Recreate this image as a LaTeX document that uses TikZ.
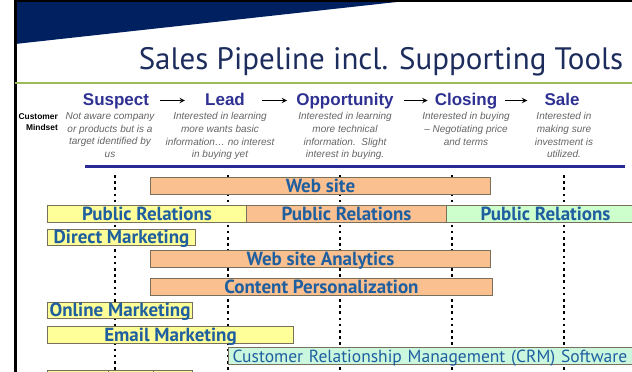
\documentclass[tikz,border=0pt]{standalone}
\usepackage{fontspec}
\setmainfont{Liberation Sans}
\newfontfamily\slidefont{PT Sans}
\usetikzlibrary{arrows, calc, positioning}
\definecolor{headnavy}{RGB}{0,32,96}
\definecolor{titlenavy}{RGB}{28,44,92}
\definecolor{titlegreen}{RGB}{155,187,89}
\definecolor{stageblue}{RGB}{46,49,146}
\definecolor{descgray}{RGB}{100,100,100}
\definecolor{rulecolor}{RGB}{42,42,150}
\definecolor{tooltext}{RGB}{31,95,160}
\definecolor{barline}{RGB}{120,112,90}
\definecolor{toolorange}{RGB}{250,192,143}
\definecolor{toolyellow}{RGB}{255,255,153}
\definecolor{toolgreen}{RGB}{204,255,204}
\definecolor{crmgreen}{RGB}{202,247,222}
\newcommand{\stagefont}{\bfseries\fontsize{17}{18}\selectfont}
\newcommand{\descfont}{\itshape\fontsize{10}{12.6}\selectfont}
\newcommand{\barfont}{\slidefont\bfseries\fontsize{19}{19}\selectfont}

\begin{document}
\begin{tikzpicture}[x=1pt, y=-1pt,
    stage/.style={font=\stagefont, text=stageblue, inner sep=0pt,
                  text height=12pt, text depth=3pt, anchor=base},
    desc/.style={font=\descfont, text=descgray, align=center,
                 inner sep=0pt, anchor=north},
    stagearrow/.style={-stealth, line width=1.4pt},
    phase/.style={line width=2.6pt, dash pattern=on 2.6pt off 3.6pt},
    tool/.style={draw=barline, line width=1pt, inner sep=0pt,
                 anchor=north west, minimum height=17pt,
                 text height=12pt, text depth=0pt,
                 font=\barfont, text=tooltext}]
\useasboundingbox (0,0) rectangle (632,372);
\clip (0,0) rectangle (632,372);

% header
\fill[headnavy] (15,0) -- (415,0) -- (15,44) -- cycle;
\draw[line width=2pt] (15,1) -- (632,1);
\draw[line width=2.5pt] (15.5,0) -- (15.5,372);
\node[font=\slidefont\fontsize{31}{34}\selectfont, text=titlenavy,
      anchor=base, inner sep=0pt] (title) at (381,69)
      {Sales Pipeline incl. Supporting Tools};
\draw[titlegreen, line width=2pt] (15,83) -- (632,83);

% pipeline stages
\node[stage] (suspect) at (116,105) {Suspect};
\node[stage] (lead)    at (225,105) {Lead};
\node[stage] (opport)  at (345,105) {Opportunity};
\node[stage] (closing) at (466,105) {Closing};
\node[stage] (sale)    at (562,105) {Sale};

\draw[stagearrow, shorten <=11pt, shorten >=20pt] (suspect.east) -- (lead.west);
\draw[stagearrow, shorten <=17pt, shorten >=9pt]  (lead.east) -- (opport.west);
\draw[stagearrow, shorten <=10pt, shorten >=7pt]  (opport.east) -- (closing.west);
\draw[stagearrow, shorten <=8pt, shorten >=17pt]  (closing.east) -- (sale.west);

\node[font=\bfseries\fontsize{8.4}{11}\selectfont, align=right,
      inner sep=0pt, anchor=north east] (mindset) at (58,113)
      {Customer\\Mindset};
\node[desc] (d-suspect) at (110,112.5)
      {Not aware company\\or products but is a\\target identified by\\us};
\node[desc] (d-lead) at (220,112.5)
      {Interested in learning\\more wants basic\\information\dots\ no interest\\in buying yet};
\node[desc] (d-opport) at (345,112.5)
      {Interested in learning\\more technical\\information.\ \ Slight\\interest in buying.};
\node[desc] (d-closing) at (466,112.5)
      {Interested in buying\\-- Negotiating price\\and terms};
\node[desc] (d-sale) at (564,112.5)
      {Interested in\\making sure\\investment is\\utilized.};

\draw[rulecolor, line width=3pt] (85,166) -- (625,166);

\foreach \x in {115,228,340,452,564}
  \draw[phase] (\x,175) -- (\x,372);

% supporting tools
\node[tool, fill=toolorange, minimum width=340pt] (website)   at (150,177) {Web site};
\node[tool, fill=toolyellow, minimum width=199pt] (pr-early)  at (47,205)  {Public Relations};
\node[tool, fill=toolorange, minimum width=200pt] (pr-mid)    at (246,205) {Public Relations};
\node[tool, fill=toolgreen,  minimum width=198pt] (pr-late)   at (446,205) {Public Relations};
\node[tool, fill=toolyellow, minimum width=148pt, minimum height=16pt] (direct) at (47,229) {Direct Marketing};
\node[tool, fill=toolorange, minimum width=340pt] (analytics) at (150,250) {Web site Analytics};
\node[tool, fill=toolorange, minimum width=342pt] (content)   at (150,278) {Content Personalization};
\node[tool, fill=toolyellow, minimum width=145pt, minimum height=16pt] (online) at (47,302) {Online Marketing};
\node[tool, fill=toolyellow, minimum width=246pt] (email)     at (47,326)  {Email Marketing};
\node[tool, fill=crmgreen, minimum width=420pt, text width=412pt, align=left,
      font=\slidefont\fontsize{17.5}{18}\selectfont] (crm) at (228,347)
      {Customer Relationship Management (CRM) Software};
\node[tool, fill=toolyellow, minimum width=61pt] (next-a) at (47,370)  {};
\node[tool, fill=toolyellow, minimum width=45pt] (next-b) at (108,370) {};
\node[tool, fill=toolyellow, minimum width=39pt] (next-c) at (153,370) {};
\end{tikzpicture}
\end{document}
